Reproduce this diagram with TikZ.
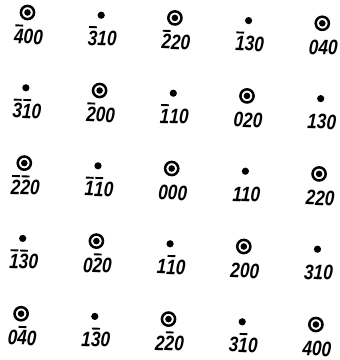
\documentclass[tikz,border=0pt]{standalone}
\usepackage{fontspec}
\newfontfamily\hklfont[FakeStretch=0.82]{Liberation Sans}
\usetikzlibrary{positioning}

% index with a bar over one digit
\newcommand\nbar[1]{\setbox0\hbox{#1}\rlap{\hspace{0.8pt}\raisebox{17.2pt}{\rule{\dimexpr\wd0-1.8pt\relax}{1.9pt}}}\box0\relax}

\tikzset{
  ringspot/.style={draw, circle, line width=2.5pt, minimum size=13.2pt, inner sep=0pt,
    path picture={\fill (path picture bounding box.center) circle (3.3pt);}},
  dotspot/.style={circle, minimum size=13.2pt, inner sep=0pt,
    path picture={\fill (path picture bounding box.center) circle (3.6pt);}},
  hkl/.style={inner sep=0pt, text height=20.4pt, text depth=0pt, xshift=1.5pt, rotate=-2,
    font=\hklfont\bfseries\itshape\fontsize{21}{21}\selectfont}
}

\begin{document}
\begin{tikzpicture}[x={(73.7pt,-2.7pt)}, y={(-1.6pt,-75.3pt)}]

    \useasboundingbox (-27.5pt,12.5pt) rectangle (312.5pt,-347.5pt);

    % 5x5 net of reflections, rings where column+row is even
    \foreach \lab [count=\n from 0] in {
        \nbar{4}00, \nbar{3}10, \nbar{2}20, \nbar{1}30, 040,
        \nbar{3}\nbar{1}0, \nbar{2}00, \nbar{1}10, 020, 130,
        \nbar{2}\nbar{2}0, \nbar{1}\nbar{1}0, 000, 110, 220,
        \nbar{1}\nbar{3}0, 0\nbar{2}0, 1\nbar{1}0, 200, 310,
        0\nbar{4}0, 1\nbar{3}0, 2\nbar{2}0, 3\nbar{1}0, 400}
    {
        \pgfmathtruncatemacro\c{mod(\n,5)}
        \pgfmathtruncatemacro\r{div(\n,5)}
        \pgfmathtruncatemacro\p{mod(\c+\r,2)}
        \ifodd\p \def\kind{dotspot}\else \def\kind{ringspot}\fi
        \node[\kind] (s\r\c) at (\c,\r) {};
        \node[hkl, below=3pt of s\r\c] (l\r\c) {\lab};
    }

\end{tikzpicture}
\end{document}
